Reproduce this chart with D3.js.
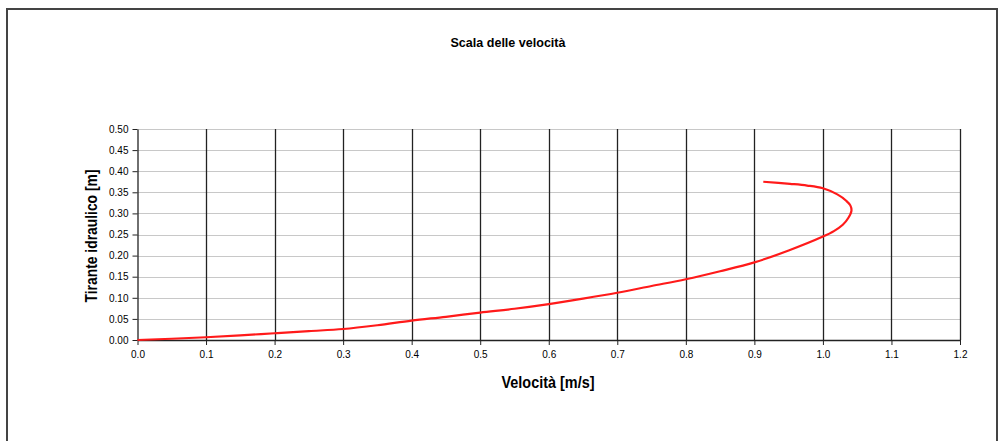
<!DOCTYPE html>
<html><head><meta charset="utf-8">
<script src="https://cdn.jsdelivr.net/npm/d3@7"></script>
<style>body{margin:0;background:#fff}svg{display:block}</style>
</head><body>
<svg id="c" width="999" height="441"></svg>
<script>
const title = "Scala delle velocità";
const xLabel = "Velocità [m/s]";
const yLabel = "Tirante idraulico [m]";
const xTicks = [0,0.1,0.2,0.3,0.4,0.5,0.6,0.7,0.8,0.9,1.0,1.1,1.2];
const yTicks = [0,0.05,0.1,0.15,0.2,0.25,0.3,0.35,0.4,0.45,0.5];
const velocity = [0,0.05,0.1,0.15,0.2,0.25,0.3,0.35,0.4,0.45,0.5,0.55,0.6,0.65,0.7,0.75,0.8,0.85,0.9,0.95,1.0,1.016,1.029,1.037,1.0416,1.04,1.034,1.021,1.0,0.977,0.952,0.913];
const depth =    [0,0.003,0.0065,0.011,0.016,0.021,0.026,0.035,0.046,0.055,0.065,0.074,0.085,0.098,0.112,0.128,0.144,0.163,0.184,0.212,0.245,0.258,0.273,0.289,0.306,0.319,0.33,0.345,0.3595,0.366,0.37,0.375];

const svg = d3.select("#c");
const bold = "'Liberation Sans',Arial,sans-serif";
const regular = "'Liberation Sans',Arial,sans-serif";

svg.append("rect").attr("x",7).attr("y",9).attr("width",990).attr("height",450)
  .attr("fill","none").attr("stroke","#444").attr("stroke-width",2);

const x = d3.scaleLinear().domain([0,1.2]).range([137.5,960]);
const y = d3.scaleLinear().domain([0,0.5]).range([340,129]);

svg.append("g").selectAll("line").data(yTicks.filter(d=>d>0)).join("line")
  .attr("x1",x(0)).attr("x2",x(1.2)).attr("y1",d=>Math.round(y(d))+0.5).attr("y2",d=>Math.round(y(d))+0.5)
  .attr("stroke","#c8c8c8").attr("stroke-width",1.2);
svg.append("g").selectAll("line").data(xTicks.filter(d=>d>0)).join("line")
  .attr("y1",y(0)).attr("y2",y(0.5)).attr("x1",d=>Math.round(x(d))+0.5).attr("x2",d=>Math.round(x(d))+0.5)
  .attr("stroke","#222").attr("stroke-width",1.3);

const xAxis = d3.axisBottom(x).tickValues(xTicks).tickFormat(d3.format(".1f")).tickSize(5).tickSizeOuter(0).tickPadding(6);
const gx = svg.append("g").attr("transform",`translate(0,${y(0)})`).call(xAxis);
gx.select(".domain").attr("stroke","#222").attr("stroke-width",1.3);
gx.selectAll(".tick line").attr("stroke","#222");
gx.selectAll("text").attr("font-family",regular).attr("font-size","10px").attr("fill","#000");

const yAxis = d3.axisLeft(y).tickValues(yTicks).tickFormat(d3.format(".2f")).tickSize(5).tickSizeOuter(0).tickPadding(4);
const gy = svg.append("g").attr("transform",`translate(${x(0)},0)`).call(yAxis);
gy.select(".domain").attr("stroke","#222").attr("stroke-width",1.3);
gy.selectAll(".tick line").attr("stroke","#222");
gy.selectAll("text").attr("font-family",regular).attr("font-size","10px").attr("fill","#000");

const pts = velocity.map((v,i)=>[v,depth[i]]);
svg.append("path").datum(pts)
  .attr("d", d3.line().x(d=>x(d[0])).y(d=>y(d[1])).curve(d3.curveCatmullRom.alpha(0.5)))
  .attr("fill","none").attr("stroke","#ff1a1a").attr("stroke-width",2.2);

svg.append("text").attr("x",508).attr("y",47).attr("text-anchor","middle")
  .attr("font-family",bold).attr("font-weight","bold").attr("font-size","13.5px")
  .attr("textLength",115).attr("lengthAdjust","spacingAndGlyphs").text(title);
svg.append("text").attr("x",548).attr("y",388).attr("text-anchor","middle")
  .attr("font-family",bold).attr("font-weight","bold").attr("font-size","16.5px")
  .attr("textLength",93).attr("lengthAdjust","spacingAndGlyphs").text(xLabel);
svg.append("text").attr("transform","translate(97,236) rotate(-90)").attr("text-anchor","middle")
  .attr("font-family",bold).attr("font-weight","bold").attr("font-size","16.5px")
  .attr("textLength",133).attr("lengthAdjust","spacingAndGlyphs").text(yLabel);
</script>
</body></html>
